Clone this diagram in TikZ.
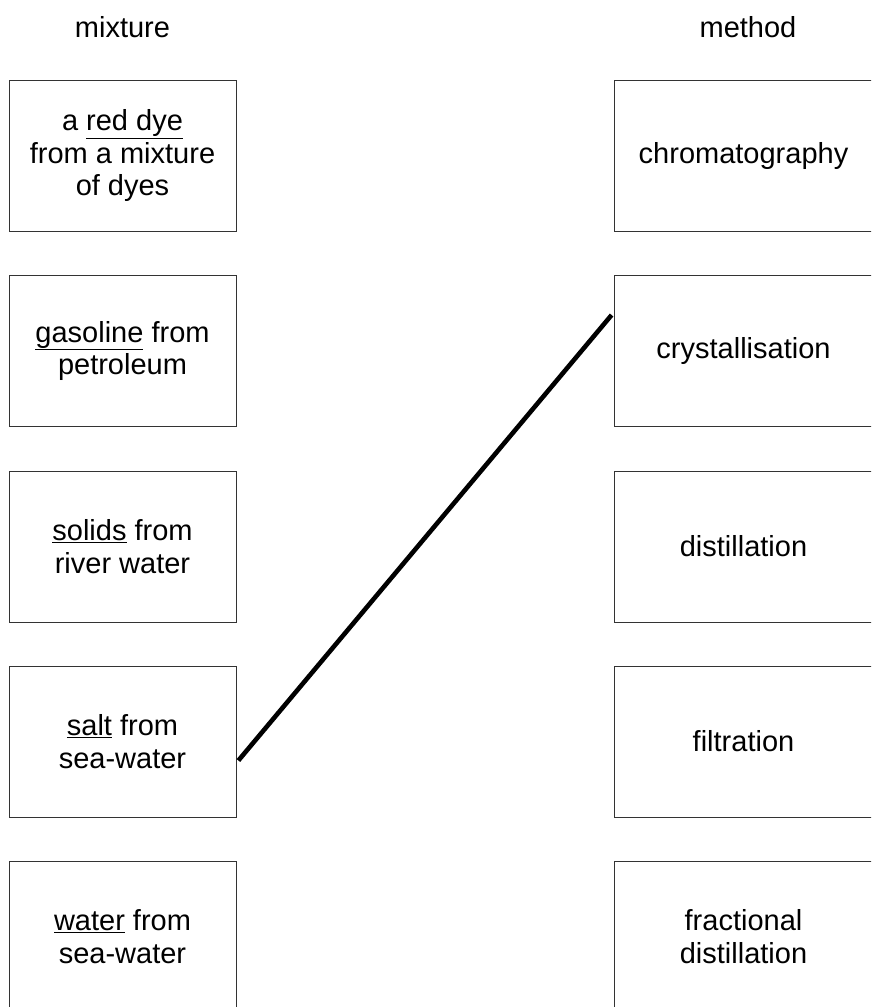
\documentclass[tikz,border=0pt]{standalone}
\usepackage{fontspec}
\setmainfont{Liberation Sans}
\usepackage{tikz}
\usetikzlibrary{positioning}
\usetikzlibrary{calc}

\tikzset{
  mixbox/.style={shape=rectangle,draw=black!80,line width=0.8pt,minimum width=227pt,minimum height=151pt,align=center,font=\fontsize{29}{32.5}\selectfont},
  methbox/.style={mixbox,minimum width=259pt},
  head/.style={font=\fontsize{29}{32.5}\selectfont}
}

\begin{document}
\begin{tikzpicture}[x=1pt,y=-1pt]
\useasboundingbox (0,0) rectangle (871,1007);
\clip (0,0) rectangle (871,1007);
\path
(122.5,27) node [head](mixhead) {mixture}
(748,27) node [head](methhead) {method}
(122.5,155.5) node [mixbox](dye) {a \underline{red dye}\\from a mixture\\of dyes}
(122.5,351) node [mixbox](gas) {\underline{gasoline} from\\petroleum}
(122.5,546.5) node [mixbox](solid) {\underline{solids} from\\river water}
(122.5,741.5) node [mixbox](salt) {\underline{salt} from\\sea-water}
(122.5,936.5) node [mixbox](water) {\underline{water} from\\sea-water}
(743.5,155.5) node [methbox](chrom) {chromatography}
(743.5,351) node [methbox](cryst) {crystallisation}
(743.5,546.5) node [methbox](dist) {distillation}
(743.5,741.5) node [methbox](filt) {filtration}
(743.5,936.5) node [methbox](frac) {fractional\\distillation};
\draw [-,line width=4.6pt]([xshift=2pt,yshift=-19pt]salt.east) --([xshift=-2pt,yshift=36pt]cryst.west);
\end{tikzpicture}
\end{document}
